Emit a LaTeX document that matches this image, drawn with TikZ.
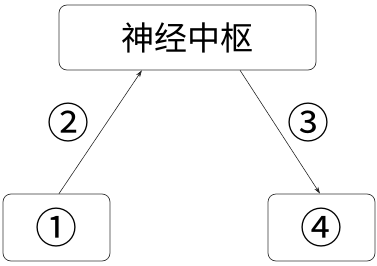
\documentclass[tikz,border=0pt]{standalone}
\usepackage{fontspec}
\newfontfamily\cjk{Noto Sans CJK SC}
\usetikzlibrary{arrows.meta,calc}
\begin{document}
\begin{tikzpicture}[x=1pt,y=-1pt,
  boxstyle/.style={draw=black!80,line width=0.7pt,rounded corners=8pt,inner sep=0pt},
  cjkbig/.style={font=\cjk\fontsize{33}{33}\selectfont},
  circ/.style={font=\cjk\fontsize{42}{42}\selectfont},
  arr/.style={draw=black!85,line width=0.6pt,-{Stealth[length=7pt,width=4.5pt]}},
  lab/.style={inner sep=0pt,circ}]
\useasboundingbox (0,0) rectangle (377,265);
\node[boxstyle,cjkbig,minimum width=257pt,minimum height=65pt] (c) at (187.5,37.5) {神经中枢};
\node[boxstyle,circ,minimum width=107pt,minimum height=67pt] (r) at (56.5,227.5) {①};
\node[boxstyle,circ,minimum width=107pt,minimum height=67pt] (e) at (321.5,227.5) {④};
\coordinate (s1) at ($(r.north west)!0.523!(r.north east)$);
\coordinate (t1) at ($(c.south west)!0.323!(c.south east)$);
\coordinate (s2) at ($(c.south west)!0.704!(c.south east)$);
\coordinate (t2) at ($(e.north west)!0.486!(e.north east)$);
\draw[arr] (s1) -- (t1);
\draw[arr] (s2) -- (t2);
\node[lab] (l2) at (68,123) {②};
\node[lab] (l3) at (308,123) {③};
\end{tikzpicture}
\end{document}
